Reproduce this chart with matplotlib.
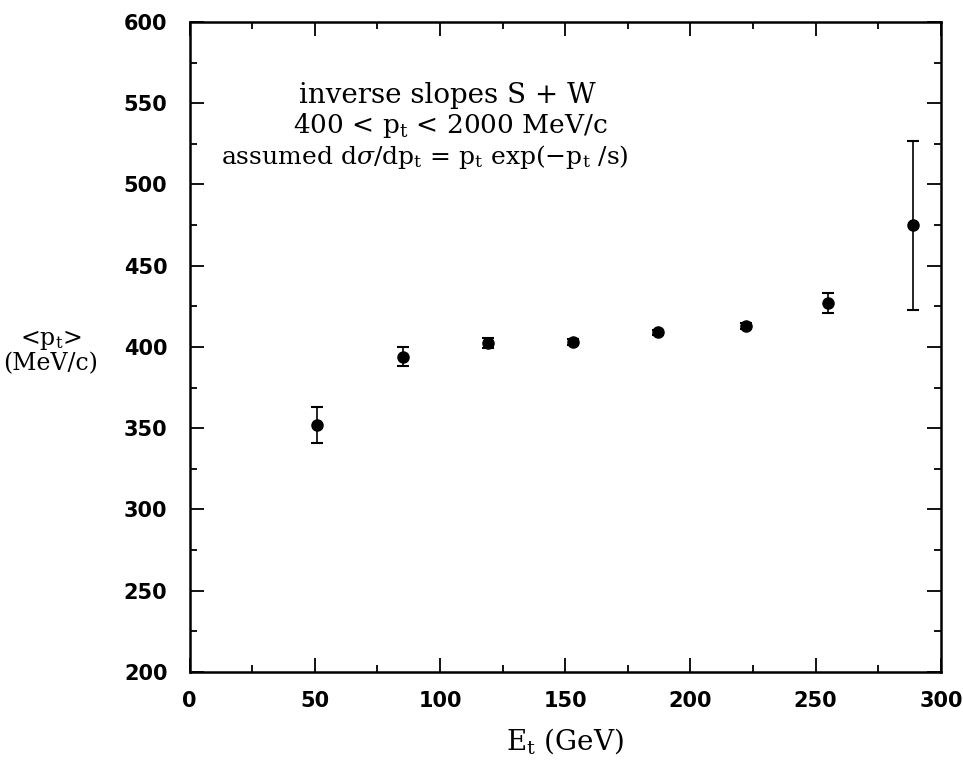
import numpy as np
import matplotlib
matplotlib.use("Agg")
import matplotlib.pyplot as plt
from matplotlib.ticker import MultipleLocator

# mean pt vs transverse energy, inverse slope fits
et = [51, 85, 119, 153, 187, 222, 255, 289]
mean_pt = [352, 394, 402.5, 403, 409, 413, 427, 475]
err = [11, 6, 3, 2, 1.5, 2, 6, 52]

plt.rcParams['mathtext.fontset'] = 'dejavuserif'
serif = 'DejaVu Serif'
tickfont = ['Liberation Sans Narrow', 'DejaVu Sans']

fig = plt.figure(figsize=(9.63, 7.73), dpi=100)
ax = fig.add_axes([0.197, 0.1307, 0.78, 0.841])

ax.errorbar(et, mean_pt, yerr=err, fmt='o', color='black', ms=8,
            elinewidth=1.2, capsize=4, capthick=1.5)

ax.set_xlim(0, 300)
ax.set_ylim(200, 600)
ax.xaxis.set_major_locator(MultipleLocator(50))
ax.xaxis.set_minor_locator(MultipleLocator(25))
ax.yaxis.set_major_locator(MultipleLocator(50))
ax.yaxis.set_minor_locator(MultipleLocator(25))
ax.tick_params(which='both', direction='in', top=True, right=True, width=1.3)
ax.tick_params(which='major', length=10)
ax.tick_params(which='minor', length=5)
ax.tick_params(axis='x', pad=14)
ax.tick_params(axis='y', pad=16)
for s in ax.spines.values():
    s.set_linewidth(1.8)
for lab in ax.get_xticklabels() + ax.get_yticklabels():
    lab.set_family(tickfont)
    lab.set_fontweight('bold')
    lab.set_fontsize(15)

ax.text(103, 555, 'inverse slopes S + W', ha='center', va='center',
        fontsize=20, family=serif)
ax.text(104, 536, r'400 < p$_\mathrm{t}$ < 2000 MeV/c', ha='center', va='center',
        fontsize=19, family=serif)
ax.text(94, 517, r'assumed d$\sigma$/dp$_\mathrm{t}$ = p$_\mathrm{t}$ exp($-$p$_\mathrm{t}$ /s)',
        ha='center', va='center', fontsize=18, family=serif)

fig.text(0.053, 0.545, r'<p$_\mathrm{t}$>' + '\n(MeV/c)', ha='center', va='center',
         fontsize=17, family=serif, linespacing=1.0)
fig.text(0.587, 0.042, r'E$_\mathrm{t}$ (GeV)', ha='center', va='center',
         fontsize=20, family=serif)

fig.savefig('out.png', dpi=100)
